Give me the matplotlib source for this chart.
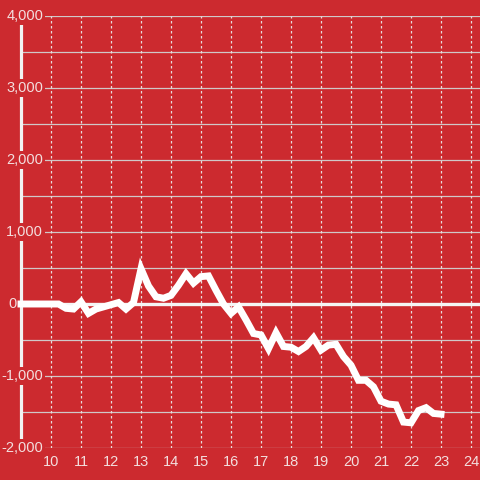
import matplotlib.pyplot as plt
import matplotlib.transforms as mtransforms

plt.rcParams['font.family'] = ['Liberation Sans', 'DejaVu Sans']

# hour of day, running value
hours = [9.0, 9.25, 9.5, 9.75, 10.0, 10.25, 10.5, 10.75, 11.0, 11.25, 11.5, 11.75,
         12.0, 12.25, 12.5, 12.75, 13.0, 13.25, 13.5, 13.75, 14.0, 14.25, 14.5, 14.75,
         15.0, 15.25, 15.5, 15.75, 16.0, 16.25, 16.5, 16.75, 17.0, 17.25, 17.5, 17.75,
         18.0, 18.25, 18.5, 18.75, 19.0, 19.25, 19.5, 19.75, 20.0, 20.25, 20.5, 20.75,
         21.0, 21.25, 21.5, 21.75, 22.0, 22.25, 22.5, 22.75, 23.0]
values = [0, 0, 0, 0, 0, 0, -60, -70, 30, -130, -70, -40,
          -10, 20, -70, 20, 490, 250, 100, 80, 120, 260, 420, 290,
          380, 390, 190, 0, -130, -40, -220, -410, -430, -620, -400, -590,
          -600, -660, -590, -470, -640, -570, -560, -730, -850, -1060, -1060, -1150,
          -1350, -1390, -1400, -1640, -1650, -1480, -1440, -1520, -1530]

xticks = list(range(10, 25))
yticks = [-2000, -1000, 0, 1000, 2000, 3000, 4000]
yminor = [-1500, -500, 500, 1500, 2500, 3500]

bg = '#cc2a2f'
txt = '#f3dede'

fig = plt.figure(figsize=(4.8, 4.8), dpi=100, facecolor=bg)
ax = fig.add_axes([21 / 480, 32 / 480, 459 / 480, 432 / 480])
ax.set_facecolor(bg)
ax.set_xlim(9.0, 24.3)
ax.set_ylim(-2000, 4000)

for s in ['top', 'right', 'bottom']:
    ax.spines[s].set_visible(False)
ax.spines['left'].set_color('#f2f2f2')
ax.spines['left'].set_linewidth(2.3)
ax.spines['left'].set_zorder(3)

# grid
for v in yticks + yminor:
    ax.axhline(v, color='#d0c8c8', lw=0.9, zorder=1)
for t in xticks:
    ax.axvline(t, color='#e8dcdc', lw=0.9, ls=(0, (2, 2)), zorder=1)
ax.axhline(0, color='#f5f5f5', lw=2.4, zorder=2)

ax.plot(hours, values, color='white', lw=5, solid_capstyle='projecting',
        solid_joinstyle='miter', clip_on=False, zorder=4)

ax.set_xticks(xticks)
ax.set_xticklabels([str(t) for t in xticks])
ax.tick_params(axis='x', length=0, pad=5, labelsize=10.5, labelcolor=txt)
ax.set_yticks([])

trans = mtransforms.blended_transform_factory(ax.transAxes, ax.transData)
for v in yticks:
    if v == 0:
        # zero label sits left of the spine
        ax.text(-0.01, v, "0", transform=trans, ha='right', va='center',
                fontsize=10.5, color=txt, zorder=3.5, clip_on=False)
        continue
    ax.text(0.048, v, f"{v:,}", transform=trans, ha='right', va='center',
            fontsize=10.5, color=txt, zorder=3.5, clip_on=False,
            bbox=dict(facecolor=bg, edgecolor='none', pad=1.5))

fig.savefig('out.png', dpi=100, facecolor=bg)
